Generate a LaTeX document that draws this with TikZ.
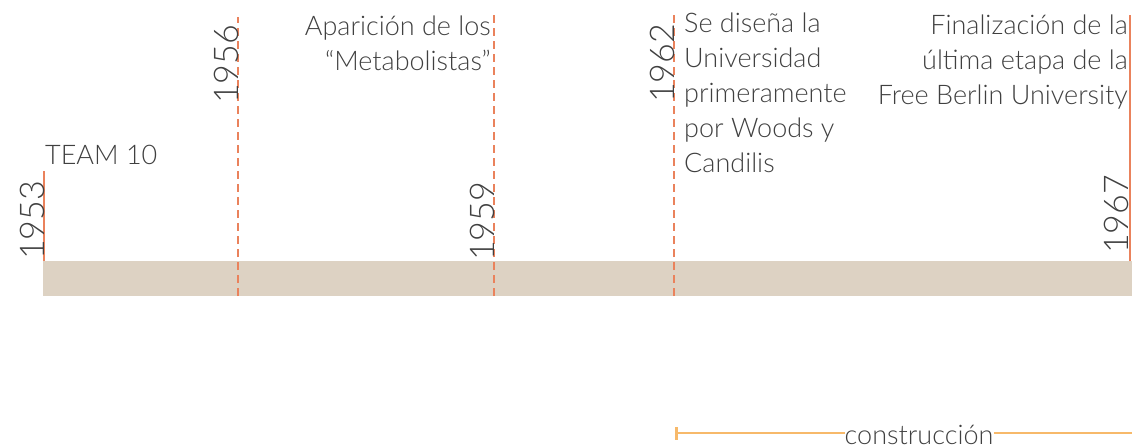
\documentclass[tikz,border=0pt]{standalone}
\usepackage{fontspec}
\setmainfont{Lato Light}
\usepackage{tikz}
\usetikzlibrary{arrows.meta,positioning}

\definecolor{barsand}{RGB}{221,210,195}
\definecolor{markorange}{RGB}{234,130,92}
\definecolor{spanorange}{RGB}{247,185,106}
\definecolor{textgray}{RGB}{64,64,64}

\begin{document}
\begin{tikzpicture}[x=1pt,y=1pt,
  yearline/.style={markorange,line width=2pt},
  yeardash/.style={markorange,line width=2.6pt,dash pattern=on 8pt off 5pt},
  yearlabel/.style={rotate=90,inner sep=0pt,text=textgray,
    font=\fontsize{34}{34}\selectfont},
  eventtext/.style={inner sep=0pt,text=textgray,
    font=\fontsize{27}{35}\selectfont}]
  \useasboundingbox (0,0) rectangle (1132,445);

  % time bar
  \fill[barsand] (43,149) rectangle (1132,184);

  % year marks
  \coordinate (m53a) at (44,184);   \coordinate (m53b) at (44,274);
  \coordinate (m56a) at (238,149);  \coordinate (m56b) at (238,428);
  \coordinate (m59a) at (494,149);  \coordinate (m59b) at (494,432);
  \coordinate (m62a) at (674,149);  \coordinate (m62b) at (674,432);
  \coordinate (m67a) at (1130,184); \coordinate (m67b) at (1130,430);

  \draw[yearline] (m53a) -- (m53b);
  \draw[yeardash] (m56a) -- (m56b);
  \draw[yeardash] (m59a) -- (m59b);
  \draw[yeardash] (m62a) -- (m62b);
  \draw[yearline] (m67a) -- (m67b);

  \node[yearlabel,anchor=base west] (y53) at (44,185) {1953};
  \node[yearlabel,anchor=base west] (y56) at (238,341) {1956};
  \node[yearlabel,anchor=base west] (y59) at (494,184) {1959};
  \node[yearlabel,anchor=base west] (y62) at (674,342) {1962};
  \node[yearlabel,anchor=base west] (y67) at (1128,191) {1967};

  % events
  \node[eventtext,anchor=base west] (team) at (45,280) {TEAM 10};
  \node[eventtext,anchor=north east,align=right] (metab) at (491,429)
    {Aparición de los\\“Metabolistas”};
  \node[eventtext,anchor=north west,align=left] (design) at (684,432)
    {Se diseña la\\Universidad\\primeramente\\por Woods y\\Candilis};
  \node[eventtext,anchor=north east,align=right] (final) at (1128,430)
    {Finalización de la\\última etapa de la\\Free Berlin University};

  % construction span
  \node[eventtext] (constr) at (919,10) {construcción};
  \coordinate (cstart) at (675,12);
  \coordinate (cend) at (1132,12);
  \draw[spanorange,line width=2.5pt,{Bar[width=13pt]}-] (cstart) -- (constr.west |- cstart);
  \draw[spanorange,line width=2.5pt] (constr.east |- cstart) -- (cend);
\end{tikzpicture}
\end{document}
